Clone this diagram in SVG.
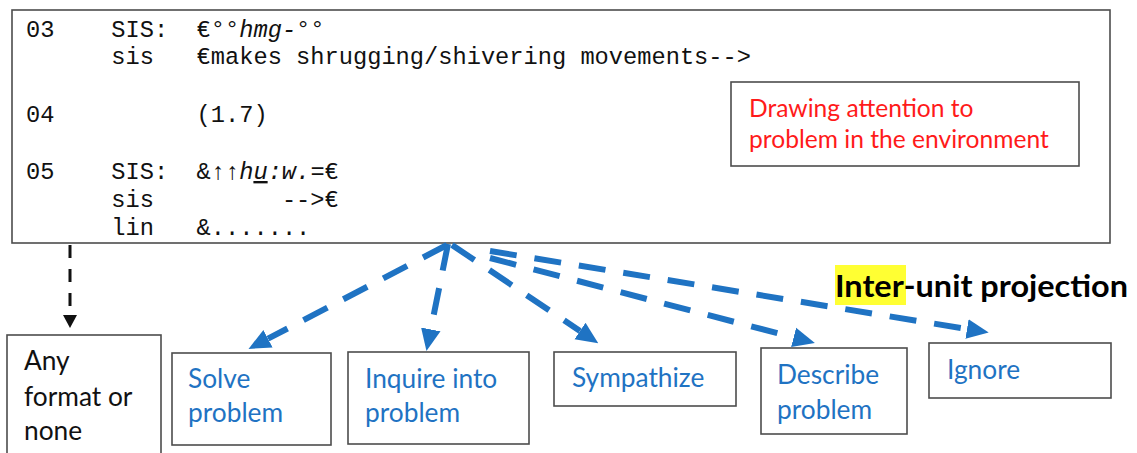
<svg xmlns="http://www.w3.org/2000/svg" width="1137" height="453" viewBox="0 0 1137 453">
  <style>
    .box { fill: #ffffff; stroke: #4d4d4d; stroke-width: 1.6; }
    .mono { font-family: "Liberation Mono", "Courier New", monospace; font-size: 23.7px; fill: #111111; }
    .lbl { font-family: Lato, "Open Sans", sans-serif; font-size: 26.3px; }
    .blue { fill: #1f73c3; }
    .red { fill: #ff1a1a; font-size: 24.6px; }
    .blk { fill: #111111; }
    .title { font-family: Lato, "Open Sans", sans-serif; font-weight: bold; font-size: 31px; fill: #000000; }
    .flow { fill: none; stroke: #1f73c3; stroke-width: 6; stroke-dasharray: 27 18; }
    .plain { fill: none; stroke: #111111; stroke-width: 3; stroke-dasharray: 13 11; }
  </style>
  <defs>
    <marker id="headBlue" markerUnits="userSpaceOnUse" markerWidth="22" markerHeight="22" refX="0" refY="9" orient="auto" viewBox="0 0 20 18">
      <path d="M0,0 L20,9 L0,18 Z" fill="#1f73c3"/>
    </marker>
    <marker id="headBlack" markerUnits="userSpaceOnUse" markerWidth="14" markerHeight="14" refX="0" refY="7" orient="auto" viewBox="0 0 13 14">
      <path d="M0,0 L13,7 L0,14 Z" fill="#111111"/>
    </marker>
  </defs>

  <!-- transcript excerpt -->
  <g id="transcript">
    <rect class="box" x="12" y="10" width="1098" height="233" stroke="#666666"/>
    <text class="mono" x="26" y="37">03</text>
    <text class="mono" x="111.3" y="37">SIS:</text>
    <text class="mono" x="196.6" y="37">€<tspan font-style="italic">°°hmg-°°</tspan></text>
    <text class="mono" x="111.3" y="63.5">sis</text>
    <text class="mono" x="196.6" y="63.5">€makes shrugging/shivering movements--&gt;</text>
    <text class="mono" x="26" y="122">04</text>
    <text class="mono" x="196.6" y="122">(1.7)</text>
    <text class="mono" x="26" y="179">05</text>
    <text class="mono" x="111.3" y="179">SIS:</text>
    <text class="mono" x="196.6" y="179">&amp;<tspan x="210.8">↑</tspan><tspan x="225">↑</tspan><tspan x="239.2" font-style="italic">h<tspan text-decoration="underline">u</tspan>:w.</tspan><tspan x="310.4">=€</tspan></text>
    <text class="mono" x="111.3" y="207">sis</text>
    <text class="mono" x="281.9" y="207">--&gt;€</text>
    <text class="mono" x="111.3" y="235">lin</text>
    <text class="mono" x="196.6" y="235">&amp;.......</text>
  </g>

  <!-- annotation on the transcript -->
  <g id="note">
    <rect class="box" x="731" y="82" width="348" height="84"/>
    <text class="lbl red" x="749" y="117">Drawing attention to</text>
    <text class="lbl red" x="749" y="148">problem in the environment</text>
  </g>

  <g id="caption">
    <rect x="835" y="265" width="71" height="40" fill="#ffff33"/>
    <text class="title" x="835" y="297" textLength="293" lengthAdjust="spacingAndGlyphs">Inter-unit projection</text>
  </g>

  <!-- response boxes -->
  <g id="any-format">
    <rect class="box" x="7" y="335" width="154" height="130"/>
    <text class="lbl blk" x="24" y="370">Any</text>
    <text class="lbl blk" x="24" y="406">format or</text>
    <text class="lbl blk" x="24" y="440">none</text>
  </g>
  <g id="solve">
    <rect class="box" x="172" y="353" width="159" height="92"/>
    <text class="lbl blue" x="188" y="388">Solve</text>
    <text class="lbl blue" x="188" y="422">problem</text>
  </g>
  <g id="inquire">
    <rect class="box" x="348" y="352" width="181" height="92"/>
    <text class="lbl blue" x="365" y="388">Inquire into</text>
    <text class="lbl blue" x="365" y="422">problem</text>
  </g>
  <g id="sympathize">
    <rect class="box" x="554" y="352" width="182" height="54"/>
    <text class="lbl blue" x="572" y="387">Sympathize</text>
  </g>
  <g id="describe">
    <rect class="box" x="761" y="348" width="146" height="86"/>
    <text class="lbl blue" x="777" y="384">Describe</text>
    <text class="lbl blue" x="777" y="419">problem</text>
  </g>
  <g id="ignore">
    <rect class="box" x="929" y="343" width="182" height="55"/>
    <text class="lbl blue" x="947" y="379">Ignore</text>
  </g>

  <!-- connectors -->
  <g id="connectors">
    <path class="plain" d="M70,245 L70,315" marker-end="url(#headBlack)"/>
    <path class="flow" d="M447,245 L268,338.7" marker-end="url(#headBlue)"/>
    <path class="flow" d="M448,244 L430.8,329.4" marker-end="url(#headBlue)"/>
    <path class="flow" d="M452,245 L580,331" marker-end="url(#headBlue)"/>
    <path class="flow" d="M490,258 L793.6,337.4" marker-end="url(#headBlue)"/>
    <path class="flow" d="M490,251 L967,329" marker-end="url(#headBlue)"/>
  </g>
</svg>
